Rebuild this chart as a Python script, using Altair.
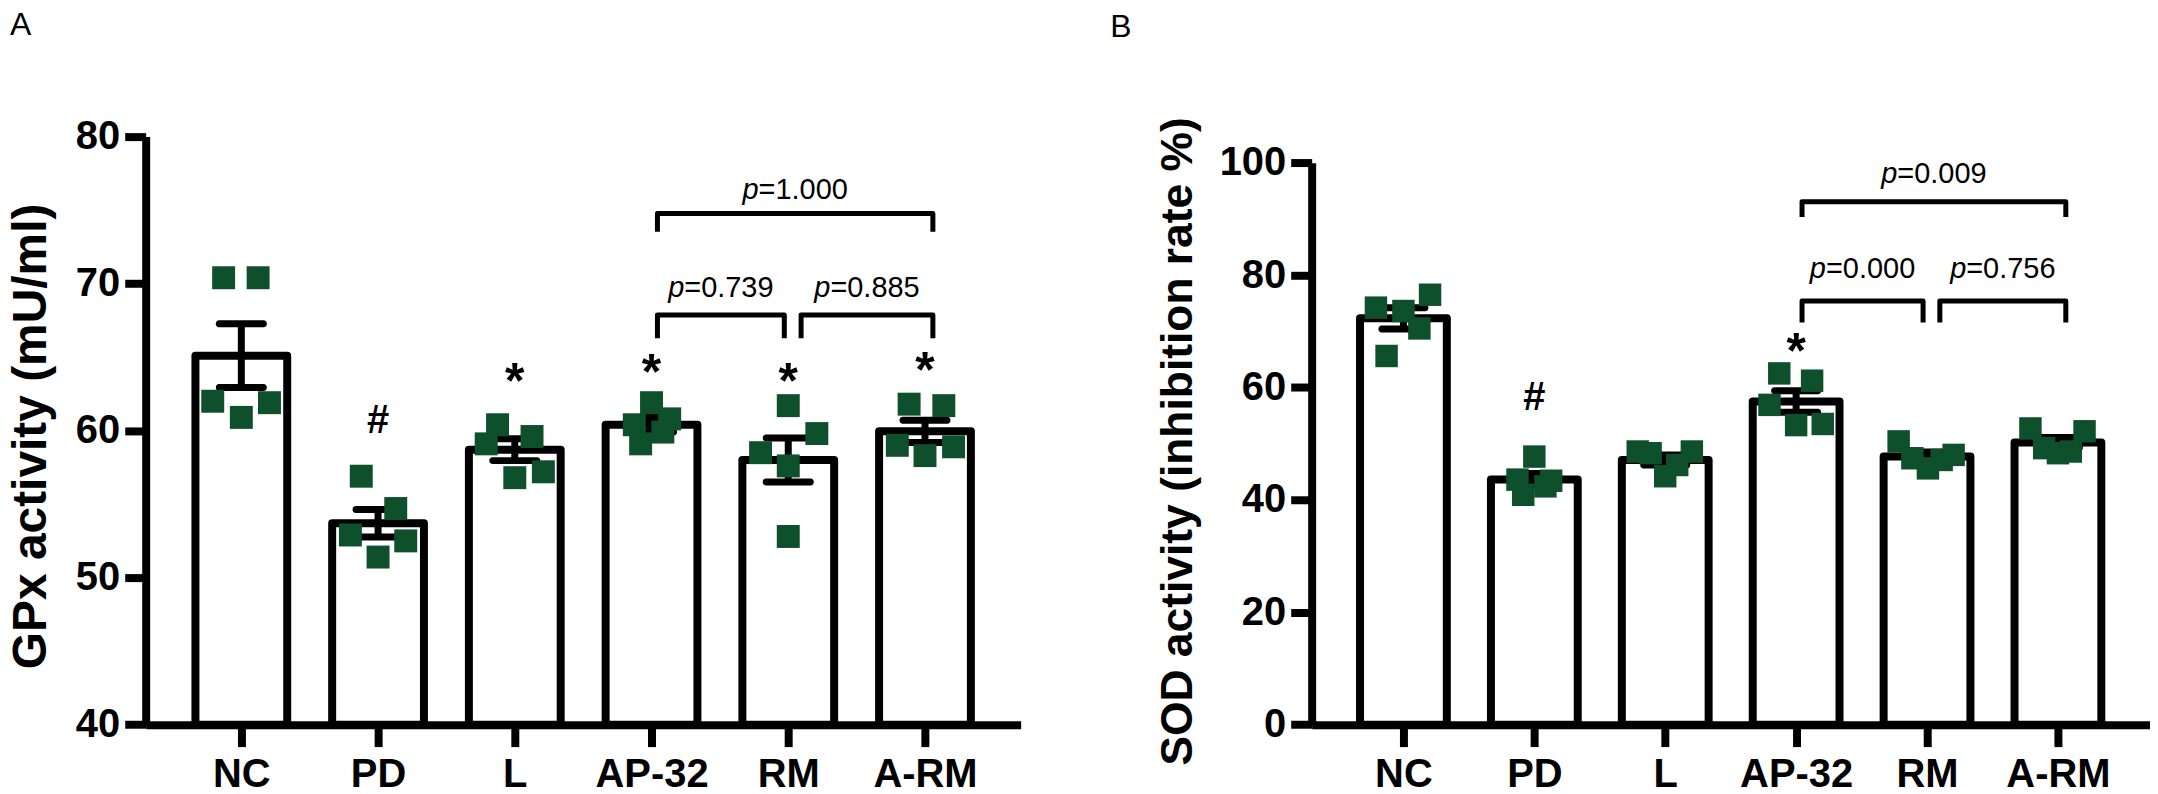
import altair as alt
import pandas as pd

categories = ["NC", "PD", "L", "AP-32", "RM", "A-RM"]

# ---------------- Panel A : GPx activity (mU/ml) ----------------
gpx_values = [
    [70.4, 70.4, 62.0, 60.9, 61.9],
    [56.9, 54.7, 52.9, 52.5, 51.4],
    [60.4, 59.6, 59.1, 57.2, 56.8],
    [61.9, 60.8, 60.4, 59.9, 59.1],
    [61.7, 59.8, 58.5, 57.6, 52.8],
    [61.8, 61.7, 59.0, 58.9, 58.3],
]
# horizontal spread of the dots inside each group, in dot widths
gpx_jitter = [
    [-0.78, 0.74, -1.26, 0.0, 1.24],
    [-0.74, 0.78, -1.22, 1.22, 0.0],
    [-0.76, 0.76, -1.26, 1.26, 0.0],
    [0.0, 0.8, -0.76, 0.5, -0.48],
    [0.0, 1.26, -1.22, 0.0, 0.0],
    [-0.7, 0.83, -1.22, 1.26, 0.0],
]
gpx_mean = [65.1, 53.7, 58.7, 60.4, 58.0, 59.95]
gpx_sem = [2.17, 0.94, 0.74, 0.5, 1.5, 0.76]
gpx_marks = ["", "#", "*", "*", "*", "*"]
gpx_mark_y = [0, 60.75, 64.0, 64.6, 64.0, 64.7]
gpx_pairs = [("AP-32", "A-RM"), ("AP-32", "RM"), ("RM", "A-RM")]
gpx_p = ["1.000", "0.739", "0.885"]
gpx_bracket_y = [74.77, 67.87, 67.87]
gpx_bracket_leg = [73.53, 66.28, 66.28]
gpx_p_y = [75.74, 69.11, 69.11]

# ---------------- Panel B : SOD activity (inhibition rate %) ----------------
sod_values = [
    [74.2, 73.6, 76.5, 70.5, 65.6],
    [47.7, 43.6, 43.4, 42.4, 40.9],
    [48.6, 48.3, 48.6, 46.2, 44.2],
    [62.5, 61.2, 56.9, 53.3, 53.5],
    [50.4, 47.4, 45.6, 47.1, 48.0],
    [52.7, 52.2, 49.2, 48.3, 48.6],
]
sod_jitter = [
    [-1.24, 0.0, 1.2, 0.72, -0.76],
    [0.0, -0.76, 0.76, 0.5, -0.5],
    [-1.24, -0.66, 1.2, 0.54, 0.0],
    [-0.76, 0.72, -1.2, 0.0, 1.2],
    [-1.28, -0.66, 0.04, 0.66, 1.2],
    [-1.24, 1.2, -0.62, 0.0, 0.58],
]
sod_mean = [72.3, 43.6, 47.1, 57.5, 47.7, 50.2]
sod_sem = [1.9, 1.1, 0.9, 1.9, 0.8, 0.9]
sod_marks = ["", "#", "", "*", "", ""]
sod_mark_y = [0, 58.25, 0, 68.1, 0, 0]
sod_pairs = [("AP-32", "A-RM"), ("AP-32", "RM"), ("RM", "A-RM")]
sod_p = ["0.009", "0.000", "0.756"]
sod_bracket_y = [93.05, 75.37, 75.37]
sod_bracket_leg = [90.35, 71.57, 71.57]
sod_p_y = [96.4, 79.51, 79.51]

panel_labels = ["A", "B"]

# ---------------- styling / layout ----------------
FONT = "Liberation Sans"
GREEN = "#0e4f2c"
H = 589.4
PAD = 0.663
P_FS = 29


def build_panel(values, jitter, mean, sem, marks, mark_y, pairs, pvals,
                br_y, br_leg, p_y, width, bar_w, dot, cap_w, ydom, yticks,
                yrange, ytitle, ytitle_fs, ytitle_x, ytitle_y, label, label_x,
                label_y):
    step = width / (len(categories) - 1 + 2 * PAD)
    unit = dot / step
    idx = {c: i for i, c in enumerate(categories)}

    xscale = alt.Scale(domain=[-PAD, len(categories) - 1 + PAD], nice=False, zero=False)
    yscale = alt.Scale(domain=ydom, nice=False, zero=False, range=yrange)
    label_expr = "[" + ",".join("'" + c + "'" for c in categories) + "][datum.value]"
    xaxis = alt.Axis(values=list(range(len(categories))), labelExpr=label_expr,
                     title=None, grid=False, labelAngle=0, labelFont=FONT,
                     labelFontSize=40, labelFontWeight="bold", labelColor="black",
                     labelPadding=8, tickSize=22, tickWidth=8, tickColor="black",
                     domainWidth=8, domainColor="black")
    yaxis = alt.Axis(values=yticks, title=ytitle, grid=False, labelFont=FONT,
                     labelFontSize=40, labelFontWeight="bold", labelColor="black",
                     labelPadding=5, tickSize=21, tickWidth=8, tickColor="black",
                     domainWidth=8, domainColor="black", titleFont=FONT,
                     titleFontSize=ytitle_fs, titleFontWeight="bold",
                     titleColor="black", titleAngle=-90, titleAlign="center",
                     titleBaseline="alphabetic", titleX=ytitle_x, titleY=ytitle_y)

    def X(f):
        return alt.X(f + ":Q", scale=xscale, axis=xaxis)

    def Y(f):
        return alt.Y(f + ":Q", scale=yscale, axis=yaxis)

    bars = pd.DataFrame({
        "x": list(range(len(categories))),
        "m": mean,
        "lo": [m - s for m, s in zip(mean, sem)],
        "hi": [m + s for m, s in zip(mean, sem)],
    })
    caps = pd.DataFrame(
        [{"x": i, "c": r["lo"]} for i, r in bars.iterrows()]
        + [{"x": i, "c": r["hi"]} for i, r in bars.iterrows()]
    )
    dots = pd.DataFrame([
        {"x": i + j * unit, "v": v}
        for i, (vals, js) in enumerate(zip(values, jitter))
        for v, j in zip(vals, js)
    ])
    ann = pd.DataFrame([
        {"x": i, "y": y, "t": t}
        for i, (t, y) in enumerate(zip(marks, mark_y)) if t
    ])

    lefts = {a for a, b in pairs}
    rights = {b for a, b in pairs}
    path_rows, text_rows = [], []
    for k, ((a, b), top, leg, pv, py) in enumerate(zip(pairs, br_y, br_leg, pvals, p_y)):
        xa = idx[a] + (13 if a in rights else 6) / step
        xb = idx[b] + (-4 if b in lefts else 8) / step
        for o, (xx, yy) in enumerate([(xa, leg), (xa, top), (xb, top), (xb, leg)]):
            path_rows.append({"x": xx, "y": yy, "o": o, "k": k})
        text_rows.append({"x": (xa + xb) / 2, "y": py, "t": "=" + pv})
    paths = pd.DataFrame(path_rows)
    ptext = pd.DataFrame(text_rows)

    p_w = 0.556 * P_FS
    total_w = (0.556 + 0.584 + 0.556 * 4 + 0.278) * P_FS
    p_dx = -total_w / 2 + p_w

    base_y0 = ydom[0]
    layers = [
        alt.Chart(bars).mark_bar(size=bar_w, fill="white", stroke="black",
                                 strokeWidth=8, strokeJoin="round", opacity=1).encode(
            x=X("x"), y=Y("m"), y2=alt.datum(base_y0)),
        alt.Chart(bars).mark_rule(color="black", strokeWidth=7, opacity=1).encode(
            x=X("x"), y=Y("lo"), y2="hi:Q"),
        alt.Chart(caps).mark_tick(color="black", size=cap_w, thickness=7,
                                  orient="horizontal", cornerRadius=3,
                                  opacity=1).encode(
            x=X("x"), y=Y("c")),
        alt.Chart(dots).mark_square(size=dot * dot, color=GREEN, opacity=1,
                                    filled=True, strokeWidth=0).encode(
            x=X("x"), y=Y("v")),
        alt.Chart(paths).mark_line(color="black", strokeWidth=5,
                                   strokeJoin="round", opacity=1).encode(
            x=X("x"), y=Y("y"), order="o:Q", detail="k:N"),
        alt.Chart(ptext).mark_text(text="p", font=FONT, fontSize=P_FS,
                                   fontStyle="italic", align="right",
                                   baseline="alphabetic", dx=p_dx, color="black").encode(
            x=X("x"), y=Y("y")),
        alt.Chart(ptext).mark_text(font=FONT, fontSize=P_FS, align="left",
                                   baseline="alphabetic", dx=p_dx, color="black").encode(
            x=X("x"), y=Y("y"), text="t:N"),
        alt.Chart(pd.DataFrame({"t": [label]})).mark_text(
            font=FONT, fontSize=32, align="left", baseline="alphabetic",
            color="black").encode(
            x=alt.value(label_x), y=alt.value(label_y), text="t:N"),
    ]
    stars = ann[ann["t"] == "*"]
    hashes = ann[ann["t"] == "#"]
    if len(stars):
        layers.append(alt.Chart(stars).mark_text(font=FONT, fontSize=50,
                                                 fontWeight="bold", baseline="middle",
                                                 dy=11, color="black").encode(
            x=X("x"), y=Y("y"), text="t:N"))
    if len(hashes):
        layers.append(alt.Chart(hashes).mark_text(font=FONT, fontSize=40,
                                                  fontWeight="bold", baseline="middle",
                                                  dy=1, color="black").encode(
            x=X("x"), y=Y("y"), text="t:N"))

    return alt.layer(*layers).properties(width=width, height=H)


panel_a = build_panel(gpx_values, gpx_jitter, gpx_mean, gpx_sem, gpx_marks, gpx_mark_y,
                      gpx_pairs, gpx_p, gpx_bracket_y, gpx_bracket_leg, gpx_p_y,
                      width=877, bar_w=92, dot=23, cap_w=51, ydom=[40, 80],
                      yticks=[40, 50, 60, 70, 80], yrange=[H, 0],
                      ytitle="GPx activity (mU/ml)", ytitle_fs=48,
                      ytitle_x=-100, ytitle_y=300, label=panel_labels[0],
                      label_x=-136, label_y=-101.6)

panel_b = build_panel(sod_values, sod_jitter, sod_mean, sod_sem, sod_marks, sod_mark_y,
                      sod_pairs, sod_p, sod_bracket_y, sod_bracket_leg, sod_p_y,
                      width=840, bar_w=87, dot=22.5, cap_w=50, ydom=[0, 100],
                      yticks=[0, 20, 40, 60, 80, 100], yrange=[H, 26.1],
                      ytitle="SOD activity (inhibition rate %)", ytitle_fs=44.5,
                      ytitle_x=-120, ytitle_y=305, label=panel_labels[1],
                      label_x=-202, label_y=-99.6)

chart = alt.hconcat(panel_a, panel_b, spacing=291.7, bounds="flush").properties(
    padding={"left": 0, "top": 0, "right": 0, "bottom": 0},
).configure_view(strokeWidth=0)

chart.save("out.html", embed_options={"renderer": "svg", "actions": False})
